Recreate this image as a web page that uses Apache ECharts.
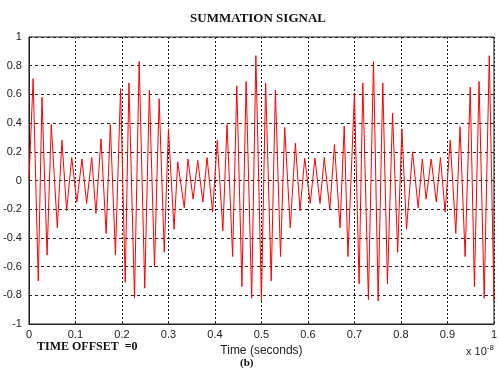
<!DOCTYPE html>
<html>
<head>
<meta charset="utf-8">
<script src="https://cdn.jsdelivr.net/npm/echarts@6/dist/echarts.min.js"></script>
<style>
* { margin: 0; padding: 0; }
body { background: #fff; }
#chart { width: 500px; height: 369px; }
</style>
</head>
<body>
<div id="chart"></div>
<script>
// time in units of 1e-8 s, read peak by peak off the picture
var timeVals = [0, 0.009, 0.020, 0.028, 0.039, 0.048, 0.061, 0.071, 0.081, 0.092,
    0.103, 0.114, 0.124, 0.135, 0.144, 0.155, 0.166, 0.175, 0.186, 0.197,
    0.207, 0.215, 0.227, 0.237, 0.249, 0.259, 0.270, 0.280, 0.291, 0.300,
    0.312, 0.320, 0.334, 0.342, 0.353, 0.363, 0.374, 0.383, 0.395, 0.405,
    0.417, 0.426, 0.438, 0.447, 0.458, 0.467, 0.479, 0.488, 0.500, 0.509,
    0.521, 0.530, 0.541, 0.550, 0.562, 0.573, 0.583, 0.593, 0.605, 0.615,
    0.626, 0.635, 0.647, 0.657, 0.669, 0.678, 0.686, 0.700, 0.710, 0.718,
    0.730, 0.741, 0.751, 0.761, 0.771, 0.782, 0.793, 0.802, 0.812, 0.825,
    0.837, 0.846, 0.854, 0.865, 0.876, 0.885, 0.895, 0.906, 0.918, 0.927,
    0.938, 0.949, 0.958, 0.968, 0.979, 0.990, 1.0];
var signalVals = [0, 0.71, -0.70, 0.58, -0.52, 0.39, -0.33, 0.28, -0.21, 0.16,
    -0.15, 0.15, -0.16, 0.16, -0.23, 0.29, -0.37, 0.39, -0.52, 0.64,
    -0.71, 0.68, -0.82, 0.83, -0.75, 0.63, -0.60, 0.57, -0.50, 0.36,
    -0.34, 0.13, -0.19, 0.15, -0.13, 0.14, -0.15, 0.16, -0.22, 0.28,
    -0.35, 0.39, -0.53, 0.66, -0.74, 0.69, -0.82, 0.87, -0.84, 0.68,
    -0.70, 0.63, -0.53, 0.37, -0.33, 0.26, -0.21, 0.155, -0.16, 0.155,
    -0.16, 0.16, -0.20, 0.25, -0.33, 0.38, -0.53, 0.61, -0.72, 0.68,
    -0.83, 0.83, -0.84, 0.68, -0.72, 0.47, -0.50, 0.36, -0.34, 0.20,
    -0.19, 0.15, -0.13, 0.15, -0.15, 0.16, -0.22, 0.28, -0.37, 0.375,
    -0.53, 0.65, -0.74, 0.69, -0.82, 0.87, -0.84];

var points = timeVals.map(function (t, i) { return [t, signalVals[i]] })

var serif = '"Liberation Serif", "DejaVu Serif", serif'
var sans = '"Liberation Sans", Arial, sans-serif'

var chart = echarts.init(document.getElementById('chart'))
chart.setOption({
    animation: false,
    title: {
        text: 'SUMMATION SIGNAL',
        left: 253,
        top: 7,
        textAlign: 'center',
        textStyle: { fontFamily: serif, fontWeight: 'bold', fontSize: 13, color: '#111' }
    },
    grid: {
        left: 28.5,
        right: 1.5,
        top: 37,
        bottom: 45,
        show: true,
        borderColor: '#222',
        borderWidth: 1
    },
    xAxis: {
        type: 'value',
        min: 0,
        max: 1,
        interval: 0.1,
        name: 'Time (seconds)',
        nameLocation: 'middle',
        nameGap: 18,
        nameTextStyle: { fontFamily: sans, fontSize: 12, color: '#222' },
        axisLine: { onZero: false, lineStyle: { color: '#222' } },
        axisTick: { inside: true, length: 3, lineStyle: { color: '#222' } },
        axisLabel: { fontFamily: sans, fontSize: 11, color: '#222', margin: 5 },
        splitLine: { show: true, lineStyle: { color: '#222', type: [2, 2], width: 1 } }
    },
    yAxis: {
        type: 'value',
        min: -1,
        max: 1,
        interval: 0.2,
        axisLine: { onZero: false, lineStyle: { color: '#222' } },
        axisTick: { inside: true, length: 3, lineStyle: { color: '#222' } },
        axisLabel: { fontFamily: sans, fontSize: 11, color: '#222', margin: 7 },
        splitLine: { show: true, lineStyle: { color: '#222', type: [3, 3], width: 1 } }
    },
    series: [{
        type: 'line',
        data: points,
        symbol: 'none',
        clip: true,
        lineStyle: { color: '#ff0000', width: 1 }
    }],
    graphic: [
        {
            type: 'text',
            left: 37,
            top: 341,
            style: { text: 'TIME OFFSET  =0', font: 'bold 12px ' + serif, fill: '#111' }
        },
        {
            type: 'text',
            left: 466,
            top: 344,
            style: {
                text: 'x 10{sup|-8}',
                font: '11px ' + sans,
                fill: '#222',
                rich: { sup: { fontSize: 8, verticalAlign: 'top', padding: [0, 0, 8, 0] } }
            }
        },
        {
            type: 'text',
            left: 240,
            top: 358,
            style: { text: '(b)', font: 'bold 11px ' + serif, fill: '#111' }
        }
    ]
})
</script>
</body>
</html>
